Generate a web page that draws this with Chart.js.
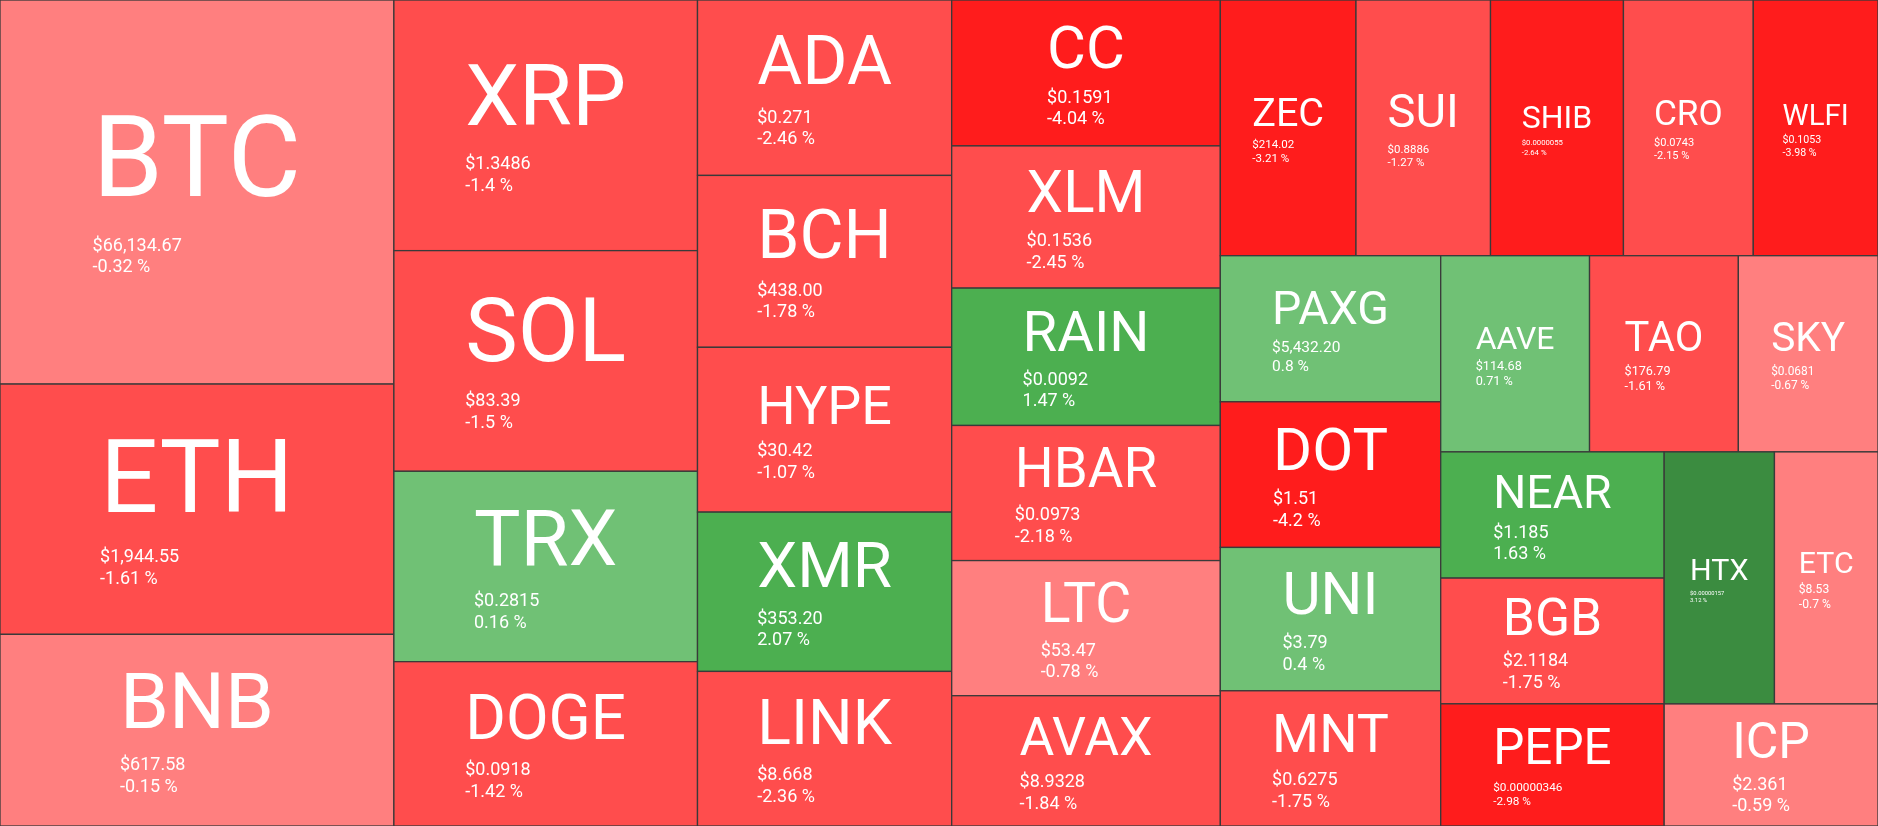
<!DOCTYPE html>
<html>
<head>
<meta charset="utf-8">
<script src="https://cdn.jsdelivr.net/npm/chart.js@4.4.1/dist/chart.umd.min.js"></script>
<style>
  html, body { margin: 0; padding: 0; background: #3a3a3a; overflow: hidden; }
  #wrap { width: 1878px; height: 826px; }
</style>
</head>
<body>
<div id="wrap"><canvas id="map" width="1878" height="826" style="width:1878px;height:826px"></canvas></div>
<script>
// coins, in the order the map lays them out
var symbols = ['BTC', 'ETH', 'BNB', 'XRP', 'SOL', 'TRX', 'DOGE', 'ADA', 'BCH', 'HYPE', 'XMR', 'LINK',
    'CC', 'XLM', 'RAIN', 'HBAR', 'LTC', 'AVAX', 'ZEC', 'SUI', 'SHIB', 'CRO', 'WLFI', 'PAXG', 'DOT', 'UNI',
    'MNT', 'AAVE', 'TAO', 'SKY', 'NEAR', 'BGB', 'PEPE', 'HTX', 'ETC', 'ICP'];

// tile weight of each coin
var weights = [151.3, 98.6, 75.5, 76.1, 67.0, 57.8, 49.9, 44.6, 43.7, 41.9, 40.5, 39.3,
    39.2, 38.2, 36.9, 36.3, 36.3, 35.0, 34.7, 34.4, 34.0, 33.2, 31.9, 32.2, 32.1, 31.6,
    29.8, 29.2, 29.2, 27.4, 28.2, 28.1, 27.3, 27.8, 26.1, 26.1];

var prices = ['$66,134.67', '$1,944.55', '$617.58', '$1.3486', '$83.39', '$0.2815', '$0.0918', '$0.271',
    '$438.00', '$30.42', '$353.20', '$8.668', '$0.1591', '$0.1536', '$0.0092', '$0.0973', '$53.47',
    '$8.9328', '$214.02', '$0.8886', '$0.0000055', '$0.0743', '$0.1053', '$5,432.20', '$1.51', '$3.79',
    '$0.6275', '$114.68', '$176.79', '$0.0681', '$1.185', '$2.1184', '$0.00000346', '$0.00000157',
    '$8.53', '$2.361'];

// 24h change in percent
var changes = [-0.32, -1.61, -0.15, -1.4, -1.5, 0.16, -1.42, -2.46, -1.78, -1.07, 2.07, -2.36,
    -4.04, -2.45, 1.47, -2.18, -0.78, -1.84, -3.21, -1.27, -2.64, -2.15, -3.98, 0.8, -4.2, 0.4,
    -1.75, 0.71, -1.61, -0.67, 1.63, -1.75, -2.98, 3.12, -0.7, -0.59];

// colour buckets for the change
var changeSteps = [-2.5, -1, 0, 1, 2.5];
var stepColors = ['#ff1c1c', '#ff4d4d', '#ff7f7f', '#70c175', '#4caf50', '#3b8c40'];

function colorFor(c) {
    var i = 0;
    while (i < changeSteps.length && c >= changeSteps[i]) i++;
    return stepColors[i];
}

//squarified layout (same idea as d3 treemapSquarify with a target ratio)
function squarify(values, x0, y0, x1, y1, ratio) {
    var rects = [];
    var value = values.reduce(function(a, b) { return a + b; }, 0);
    var i0 = 0, i1 = 0, n = values.length;
    while (i0 < n) {
        var dx = x1 - x0, dy = y1 - y0;
        var sum = values[i1++];
        var minV = sum, maxV = sum;
        var alpha = Math.max(dy / dx, dx / dy) / (value * ratio);
        var beta = sum * sum * alpha;
        var minRatio = Math.max(maxV / beta, beta / minV);
        for (; i1 < n; ++i1) {
            var v = values[i1];
            sum += v;
            var mn = Math.min(minV, v), mx = Math.max(maxV, v);
            beta = sum * sum * alpha;
            var newRatio = Math.max(mx / beta, beta / mn);
            if (newRatio > minRatio) { sum -= v; break; }
            minV = mn; maxV = mx;
            minRatio = newRatio;
        }
        var i, pos;
        if (dx < dy) {
            var yb = i1 < n ? y0 + dy * sum / value : y1;
            pos = x0;
            for (i = i0; i < i1; i++) {
                var w = dx * values[i] / sum;
                rects[i] = { x0: pos, y0: y0, x1: i == i1 - 1 ? x1 : pos + w, y1: yb };
                pos += w;
            }
            y0 = yb;
        } else {
            var xb = i1 < n ? x0 + dx * sum / value : x1;
            pos = y0;
            for (i = i0; i < i1; i++) {
                var h = dy * values[i] / sum;
                rects[i] = { x0: x0, y0: pos, x1: xb, y1: i == i1 - 1 ? y1 : pos + h };
                pos += h;
            }
            x0 = xb;
        }
        value -= sum;
        i0 = i1;
    }
    return rects;
}

var treemapPlugin = {
    id: 'treemap',
    afterDatasetsDraw: function(chart) {
        var ctx = chart.ctx;
        var xs = chart.scales.x, ys = chart.scales.y;
        var cells = squarify(weights, xs.min, ys.min, xs.max, ys.max, 1.7);
        ctx.save();
        cells.forEach(function(r, i) {
            var left = xs.getPixelForValue(r.x0), right = xs.getPixelForValue(r.x1);
            var top = ys.getPixelForValue(r.y0), bottom = ys.getPixelForValue(r.y1);
            var w = right - left, h = bottom - top;
            ctx.fillStyle = colorFor(changes[i]);
            ctx.fillRect(left, top, w, h);
            ctx.lineWidth = 1.3;
            ctx.strokeStyle = '#3a3a3a';
            ctx.strokeRect(left, top, w, h);

            //symbol size: fit half the width, capped by the height
            ctx.font = '100px Roboto';
            var symEm = ctx.measureText(symbols[i]).width / 100;
            var F = Math.min(0.41 * h, 0.53 * w / symEm);
            var changeText = changes[i] + ' %';
            var subEm = Math.max(ctx.measureText(prices[i]).width, ctx.measureText(changeText).width) / 100;
            var s = Math.min(18, 0.31 * w / subEm);

            var blockH = 0.711 * F + 0.37 * F + 1.2 * s + 0.711 * s;
            var yTop = top + h / 2 - blockH / 2 + 2;
            var x = left + w / 2 - symEm * F / 2;
            var base = yTop + 0.711 * F;
            ctx.fillStyle = '#ffffff';
            ctx.textAlign = 'left';
            ctx.textBaseline = 'alphabetic';
            ctx.font = F + 'px Roboto';
            ctx.fillText(symbols[i], x, base);
            ctx.font = s + 'px Roboto';
            var pBase = base + 0.37 * F + 0.711 * s;
            ctx.fillText(prices[i], x, pBase);
            ctx.fillText(changeText, x, pBase + 1.2 * s);
        });
        ctx.restore();
    }
};

var chart = new Chart(document.getElementById('map'), {
    type: 'scatter',
    data: { datasets: [{ data: [] }] },
    options: {
        responsive: false,
        animation: false,
        devicePixelRatio: 1,
        layout: { padding: 0 },
        plugins: { legend: { display: false }, tooltip: { enabled: false } },
        scales: {
            x: { type: 'linear', min: 0, max: 1878, display: false },
            y: { type: 'linear', min: 0, max: 826, reverse: true, display: false }
        }
    },
    plugins: [treemapPlugin]
});
</script>
</body>
</html>
